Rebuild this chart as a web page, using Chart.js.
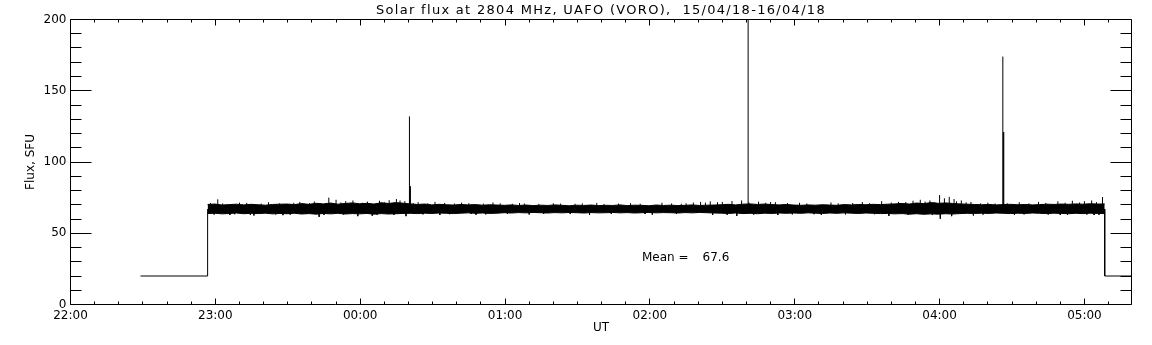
<!DOCTYPE html>
<html><head><meta charset="utf-8">
<script src="https://cdn.jsdelivr.net/npm/chart.js@4.4.1/dist/chart.umd.min.js"></script>
<style>html,body{margin:0;padding:0;background:#fff;}canvas{display:block;}</style>
</head><body>
<canvas id="c" width="1152" height="345"></canvas>
<script>
// ---- texts ----
const titleText = 'Solar flux at 2804 MHz, UAFO (VORO),  15/04/18-16/04/18';
const xTitle = 'UT';
const yTitle = 'Flux, SFU';
const meanLabel = 'Mean =';
const meanValue = 67.6;

// ---- axes (x = minutes after 22:00 UT) ----
const xMin = 0, xMax = 439.5, xMajorStep = 60, xMinorStep = 10;
const xTickLabels = ['22:00','23:00','00:00','01:00','02:00','03:00','04:00','05:00'];
const yMin = 0, yMax = 200, yMajorStep = 50, yMinorStep = 10;

// ---- data ----
// receiver off level before / after the session
const stepStartT = [29, 56.8, 56.8];
const stepStartV = [20, 20, 67];
const stepEndT = [428.4, 428.4, 439.5];
const stepEndV = [67, 20, 20];

// noise band envelope, sampled evenly from bandStart to bandEnd
const bandStart = 56.8, bandEnd = 428.4;
const bandUpper = [
 70.2,70.5,69.8,70.1,70.4,69.9,70.3,70.0,69.7,70.2,70.4,
 70.5,70.1,70.8,70.3,71.0,70.6,71.2,70.4,70.9,71.3,
 70.7,71.0,70.5,71.4,70.9,71.5,71.1,
 70.6,70.2,70.5,69.9,70.3,70.0,69.8,70.2,69.9,70.1,69.7,70.0,69.8,
 69.6,69.9,69.5,69.8,69.4,69.7,69.5,69.9,69.6,69.3,69.7,69.5,69.8,69.4,69.6,
 69.5,69.9,69.4,69.7,69.6,69.3,69.8,69.5,69.7,69.4,69.6,69.9,69.5,69.7,69.8,
 70.0,70.3,69.9,70.4,70.6,70.2,70.5,70.1,69.9,70.2,
 69.8,69.6,69.9,69.7,70.0,69.8,69.6,70.1,69.9,70.2,70.0,70.3,70.1,
 70.4,70.6,70.9,70.5,71.2,70.8,71.5,71.0,71.3,70.9,70.6,70.4,70.2,
 70.0,70.2,69.9,70.1,70.3,70.0,70.2,69.9,70.1,70.4,70.2,70.5,70.3,70.6,70.4,70.7,70.5,70.6
];
const bandLower = [
 63.8,64.1,63.6,63.9,64.2,63.7,64.0,63.8,64.1,63.6,63.9,
 63.7,64.0,63.5,63.8,63.4,63.9,63.6,64.0,63.5,63.8,
 63.6,63.9,63.4,63.8,63.5,63.7,63.9,
 64.0,63.8,64.1,63.9,64.2,64.0,63.8,64.1,64.3,64.0,64.2,63.9,64.1,
 64.4,64.2,64.5,64.3,64.6,64.4,64.2,64.5,64.3,64.6,64.4,64.2,64.5,64.3,64.4,
 64.6,64.3,64.5,64.2,64.4,64.6,64.3,64.5,64.4,64.2,64.5,64.3,64.6,64.4,64.2,
 64.1,63.9,64.2,63.8,64.0,63.7,64.1,63.9,64.2,64.0,
 64.2,64.0,64.3,64.1,63.9,64.2,64.0,64.3,64.1,63.9,64.2,64.0,63.8,
 63.9,63.6,63.8,63.4,63.7,63.3,63.6,63.4,63.7,63.5,63.8,64.0,63.9,
 64.1,63.9,64.2,64.0,63.8,64.1,63.9,64.2,64.0,63.8,64.1,63.9,63.7,64.0,63.8,64.1,63.9,63.8
];
const bandLevel = 67;

// bursts
const burstT = [140.4, 140.6, 140.8, 280.7, 386.2, 386.4, 386.6];
const burstV = [132, 83, 83, 230, 174, 121, 121];

// larger noise excursions out of the band
const noiseT = [
 61,66,70,76,82,88,95,101,103,107,
 110,114,117,119,123,125,128,132,135,136.5,
 138.5,139,144,151,153,162,168,175,186,190,
 200,215,218,232,241,245,258,261,265,266,
 270,274,276,278,285,292,293,302,311,315,
 328,336,339,343,349,352,356,357,360,360.3,
 362,364,365,366,369,373,374,380,391,393,
 401,409,410,415,420,423,424,427.5
];
const noiseV = [
 73.8,62.8,71.5,62.5,71.8,62.7,72.0,72.3,61.5,75.0,
 73.5,72.5,73.0,62.0,72.2,62.3,72.8,73.2,74.0,73.0,
 72.5,62.0,71.8,72.0,62.8,71.5,63.0,71.6,71.2,63.2,
 71.0,63.0,71.3,71.1,63.1,71.4,71.6,72.0,72.4,62.8,
 72.0,72.6,62.2,73.0,72.2,71.8,62.8,71.4,63.0,71.6,
 71.9,72.5,62.2,72.0,72.8,73.5,73.0,62.8,76.8,60.2,
 74.5,75.5,62.0,74.0,73.0,72.0,62.5,71.5,63.0,71.8,
 72.0,72.4,62.8,72.8,72.5,73.0,62.8,75.4
];
// small noise excursions along the band edges
const fuzzT = [
 58,59.5,63,68,73,74.5,79,85,86.5,91,
 92.5,98,99,105,112,113,121,127,130,134,
 142,146,148,155,157,159,165,166,171,172,
 178,181,183,188,194,196,203,207,209,212,
 221,224,227,236,238,249,251,253,255,263,
 268,272,281,283,288,290,297,299,305,308,
 318,321,324,331,333,340,346,347,354,358,
 367,371,377,378,383,388,395,397,404,405,
 412,413,418,421,425,426
];
const fuzzV = [
 71.2,63.2,70.9,63.4,71.3,63.0,70.8,63.3,71.0,63.1,
 71.4,63.5,71.1,62.9,71.6,63.2,71.4,63.0,71.7,62.9,
 71.2,63.3,71.0,71.3,63.4,70.9,71.1,63.5,70.8,63.3,
 71.0,63.6,70.7,70.9,70.6,63.6,70.8,63.5,70.7,70.9,
 70.6,63.6,70.8,70.7,63.5,70.9,63.6,70.7,71.0,71.5,
 71.8,63.0,71.6,63.2,71.4,71.9,71.2,63.3,70.9,63.4,
 71.0,63.3,71.2,71.1,63.4,71.5,71.9,63.0,72.2,71.8,
 72.4,71.7,71.0,63.2,70.9,71.1,63.3,71.0,71.3,63.2,
 71.4,63.1,71.6,63.2,71.8,63.0
];

// mean annotation anchor (data coordinates)
const meanLabelAt = [236.7, 32.4];
const meanValueAt = [272.9, 32.4];

// ---- build datasets ----
const pts = (T, V) => T.map((t, i) => ({x: t, y: V[i]}));
const bandT = bandUpper.map((_, i) => bandStart + (bandEnd - bandStart) * i / (bandUpper.length - 1));
const segs = (T, V, base) => {
  const out = [];
  T.forEach((t, i) => { out.push({x: t, y: base}, {x: t, y: V[i]}, {x: t, y: null}); });
  return out;
};
const lineDs = (data, extra) => Object.assign({
  data, borderColor: '#000', backgroundColor: '#000', borderWidth: 1,
  pointRadius: 0, tension: 0, fill: false, spanGaps: false
}, extra || {});

Chart.defaults.font.family = '"DejaVu Sans", sans-serif';
Chart.defaults.font.size = 12;
Chart.defaults.color = '#000';

const deco = {
  id: 'deco',
  beforeDraw(chart) {
    const tb = chart.titleBlock;
    if (tb && !tb._spaced) {
      const orig = tb.draw.bind(tb);
      tb.draw = function (a) {
        const ctx = chart.ctx;
        ctx.save();
        try { ctx.letterSpacing = '1.3px'; } catch (e) {}
        orig(a);
        ctx.restore();
      };
      tb._spaced = true;
    }
  },
  afterDraw(chart) {
    const {ctx, chartArea: a, scales: {x, y}} = chart;
    ctx.save();
    ctx.strokeStyle = '#000';
    ctx.lineWidth = 1;
    const L = a.left, R = a.right, T = a.top, B = a.bottom;
    ctx.beginPath();
    ctx.rect(L, T, R - L, B - T);
    for (let v = yMin; v <= yMax; v += yMinorStep) {
      const py = Math.round(y.getPixelForValue(v) - 0.5) + 0.5;
      const len = (v % yMajorStep === 0) ? 21 : 11;
      ctx.moveTo(L, py); ctx.lineTo(L + len, py);
      ctx.moveTo(R, py); ctx.lineTo(R - len, py);
    }
    for (let t = xMin; t <= xMax; t += xMinorStep) {
      const px = Math.round(x.getPixelForValue(t) - 0.5) + 0.5;
      const len = (t % xMajorStep === 0) ? 6 : 3;
      ctx.moveTo(px, B); ctx.lineTo(px, B - len);
      ctx.moveTo(px, T); ctx.lineTo(px, T + len);
    }
    ctx.stroke();
    ctx.fillStyle = '#000';
    ctx.font = '12px "DejaVu Sans"';
    ctx.textBaseline = 'middle';
    ctx.textAlign = 'left';
    ctx.fillText(meanLabel, x.getPixelForValue(meanLabelAt[0]), y.getPixelForValue(meanLabelAt[1]));
    ctx.textAlign = 'right';
    ctx.fillText(meanValue.toFixed(1), x.getPixelForValue(meanValueAt[0]), y.getPixelForValue(meanValueAt[1]));
    ctx.restore();
  }
};

new Chart(document.getElementById('c'), {
  type: 'line',
  data: {
    datasets: [
      lineDs(pts(bandT, bandUpper)),
      lineDs(pts(bandT, bandLower), {fill: '-1'}),
      lineDs(pts(stepStartT, stepStartV)),
      lineDs(pts(stepEndT, stepEndV)),
      lineDs(segs(burstT, burstV, bandLevel)),
      lineDs(segs(noiseT, noiseV, bandLevel)),
      lineDs(segs(fuzzT, fuzzV, bandLevel))
    ]
  },
  options: {
    responsive: false,
    animation: false,
    devicePixelRatio: 1,
    layout: {padding: {left: 0, right: 20.5, top: 0, bottom: 0}},
    plugins: {
      legend: {display: false},
      tooltip: {enabled: false},
      title: {
        display: true, text: titleText, fullSize: false,
        font: {size: 13, weight: 'normal', lineHeight: 1},
        padding: {top: 4, bottom: 2.5}, color: '#000'
      }
    },
    scales: {
      x: {
        type: 'linear', min: xMin, max: xMax,
        grid: {display: false, drawTicks: false},
        border: {display: false},
        ticks: {
          stepSize: xMajorStep, includeBounds: false, autoSkip: false, maxRotation: 0, padding: 4,
          callback: (v) => (v % xMajorStep === 0) ? xTickLabels[v / xMajorStep] : ''
        },
        title: {display: true, text: xTitle, padding: {top: 0, bottom: 10}},
        afterFit: (s) => { s.height = 40.5; }
      },
      y: {
        type: 'linear', min: yMin, max: yMax,
        grid: {display: false, drawTicks: false},
        border: {display: false},
        ticks: {stepSize: yMajorStep, padding: 4},
        title: {display: true, text: yTitle, padding: {top: 24, bottom: 0}},
        afterFit: (s) => { s.width = 70.5; }
      }
    }
  },
  plugins: [deco]
});
</script>
</body></html>
